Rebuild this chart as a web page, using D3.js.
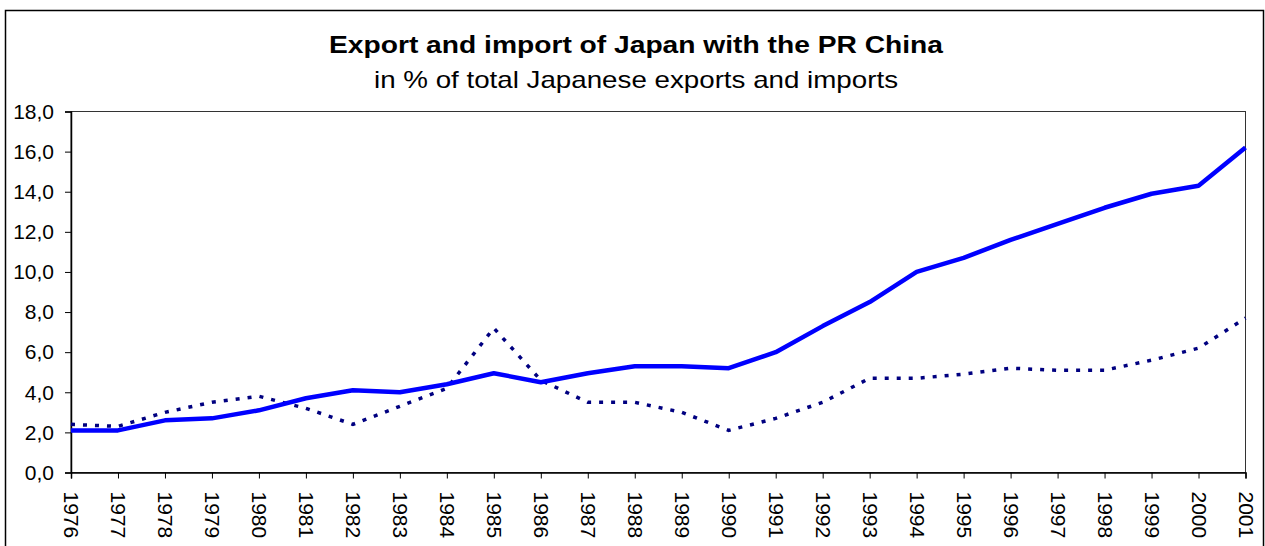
<!DOCTYPE html>
<html>
<head>
<meta charset="utf-8">
<script src="https://cdn.jsdelivr.net/npm/d3@7"></script>
<style>
  body { margin: 0; background: #fff; }
  svg { display: block; font-family: "Liberation Sans", Arial, sans-serif; }
</style>
</head>
<body>
<div class="container"></div>
<script>
const years = d3.range(1976, 2002).map(String);

// share of Japanese imports coming from China (solid)
const importShare = [2.1, 2.1, 2.6, 2.7, 3.1, 3.7, 4.1, 4.0, 4.4, 4.95, 4.5, 4.95, 5.3, 5.3, 5.2, 6.0,
  7.3, 8.5, 10.0, 10.7, 11.6, 12.4, 13.2, 13.9, 14.3, 16.2];

// share of Japanese exports going to China (dotted)
const exportShare = [2.4, 2.3, 3.0, 3.5, 3.8, 3.2, 2.4, 3.3, 4.2, 7.2, 4.6, 3.5, 3.5, 3.0, 2.1, 2.7,
  3.5, 4.7, 4.7, 4.9, 5.2, 5.1, 5.1, 5.6, 6.2, 7.7];

const yTicks = [0, 2, 4, 6, 8, 10, 12, 14, 16, 18];

const title = "Export and import of Japan with the PR China";
const subtitle = "in % of total Japanese exports and imports";

const width = 1265;
const height = 546;
const plot = { left: 71, right: 1245.5, top: 111.5, bottom: 472.5 };

const svg = d3
  .select(".container")
  .append("svg")
  .attr("width", width)
  .attr("height", height);

// outer chart border
svg
  .append("rect")
  .attr("x", 5.5)
  .attr("y", 10.5)
  .attr("width", 1258)
  .attr("height", 560)
  .attr("fill", "none")
  .attr("stroke", "#000")
  .attr("stroke-width", 1.5);

// the original titles are drawn a bit wide, so stretch them to the same length
svg
  .append("text")
  .attr("x", 636)
  .attr("y", 53)
  .attr("text-anchor", "middle")
  .attr("font-size", 24)
  .attr("font-weight", "bold")
  .attr("textLength", 614)
  .attr("lengthAdjust", "spacingAndGlyphs")
  .text(title);

svg
  .append("text")
  .attr("x", 636)
  .attr("y", 88)
  .attr("text-anchor", "middle")
  .attr("font-size", 24)
  .attr("textLength", 524)
  .attr("lengthAdjust", "spacingAndGlyphs")
  .text(subtitle);

const xScale = d3
  .scalePoint()
  .domain(years)
  .range([plot.left, plot.right]);

const yScale = d3
  .scaleLinear()
  .domain([0, 18])
  .range([plot.bottom, plot.top]);

// plot area frame
svg
  .append("rect")
  .attr("x", plot.left)
  .attr("y", plot.top)
  .attr("width", plot.right - plot.left)
  .attr("height", plot.bottom - plot.top)
  .attr("fill", "none")
  .attr("stroke", "#333")
  .attr("stroke-width", 1);

const fmt = d => d.toFixed(1).replace(".", ",");

const yAxis = svg
  .append("g")
  .attr("transform", `translate(${plot.left},0)`)
  .call(d3.axisLeft(yScale).tickValues(yTicks).tickFormat(fmt).tickSize(6).tickPadding(11));

const xAxis = svg
  .append("g")
  .attr("transform", `translate(0,${plot.bottom})`)
  .call(d3.axisBottom(xScale).tickSize(6).tickPadding(0));

[yAxis, xAxis].forEach(ax => {
  ax.selectAll("path").attr("stroke", "#000").attr("stroke-width", 1.5);
  ax.selectAll("line").attr("stroke", "#000");
  ax.selectAll("text")
    .attr("font-size", 21)
    .attr("font-family", "Liberation Sans, Arial, sans-serif")
    .attr("fill", "#000");
});

xAxis
  .selectAll("text")
  .attr("transform", "rotate(90)")
  .attr("text-anchor", "start")
  .attr("x", 19)
  .attr("y", 0)
  .attr("dy", "0.35em");

const line = d3
  .line()
  .x((d, i) => xScale(years[i]))
  .y(d => yScale(d));

svg
  .append("path")
  .datum(exportShare)
  .attr("d", line)
  .attr("fill", "none")
  .attr("stroke", "#000080")
  .attr("stroke-width", 3.5)
  .attr("stroke-dasharray", "4,8");

svg
  .append("path")
  .datum(importShare)
  .attr("d", line)
  .attr("fill", "none")
  .attr("stroke", "#0000ff")
  .attr("stroke-width", 4.5)
  .attr("stroke-linejoin", "round");
</script>
</body>
</html>
